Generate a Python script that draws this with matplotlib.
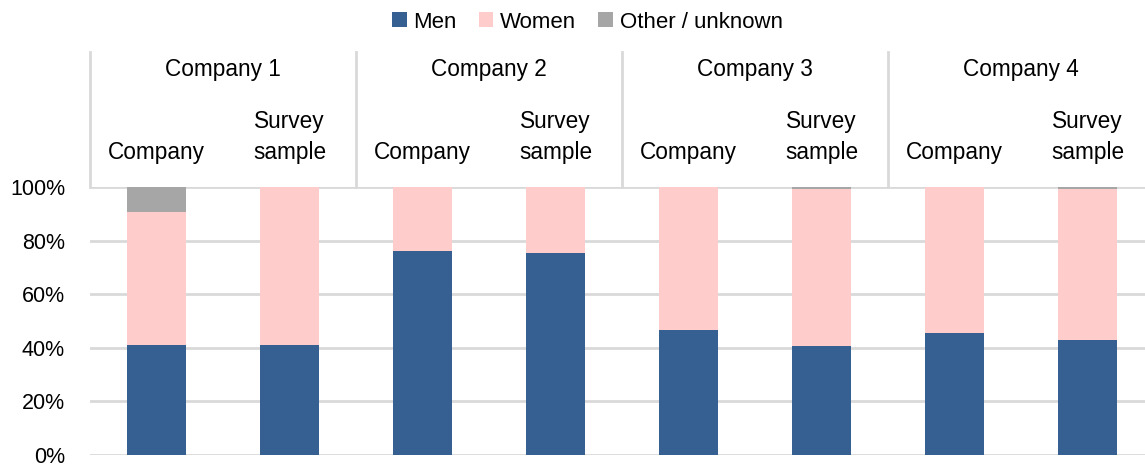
import matplotlib
matplotlib.use("Agg")
import matplotlib.pyplot as plt
from matplotlib import font_manager
import numpy as np

companies = ["Company 1", "Company 2", "Company 3", "Company 4"]
subcats = [["Company"], ["Survey", "sample"]]
men = [41.0, 41.0, 76.1, 75.4, 46.6, 40.7, 45.5, 42.9]
women = [49.7, 59.0, 23.9, 24.6, 53.4, 58.6, 54.5, 56.4]
other = [9.3, 0.0, 0.0, 0.0, 0.0, 0.7, 0.0, 0.7]
yticks = [0, 20, 40, 60, 80, 100]
ytick_labels = ["0%", "20%", "40%", "60%", "80%", "100%"]

names = {f.name for f in font_manager.fontManager.ttflist}
fam = "Liberation Sans Narrow" if "Liberation Sans Narrow" in names else "Liberation Sans"
plt.rcParams["font.family"] = [fam, "DejaVu Sans"]

c_men = "#366092"
c_women = "#FFCCCC"
c_other = "#A6A6A6"
grid_c = "#D9D9D9"

W, H = 1145, 467
fig = plt.figure(figsize=(W / 100, H / 100), dpi=100)
ax = fig.add_axes([90 / W, (H - 455) / H, 1064 / W, (455 - 187) / H])

x = np.arange(len(men))
bw = 0.44
ax.bar(x, men, bw, color=c_men, label="Men", zorder=3)
ax.bar(x, women, bw, bottom=men, color=c_women, label="Women", zorder=3)
bot2 = [m + w for m, w in zip(men, women)]
ax.bar(x, other, bw, bottom=bot2, color=c_other, label="Other / unknown", zorder=3)

ax.set_xlim(-0.5, len(men) - 0.5)
ax.set_ylim(0, 100)
ax.set_yticks(yticks)
ax.set_yticklabels(ytick_labels, fontsize=15.5)
ax.set_xticks([])
ax.tick_params(axis="y", length=0, pad=18)
for v in yticks:
    ax.axhline(v, color=grid_c, lw=2, zorder=1)
for s in ax.spines.values():
    s.set_visible(False)

# header
line_y = [112.7, 124.6]
for i in range(len(companies)):
    xl = 2 * i - 0.5
    ax.plot([xl, xl], [100, 150.4], color=grid_c, lw=2, clip_on=False, zorder=1)
    ax.text(2 * i + 0.5, 143.7, companies[i], ha="center", va="center", fontsize=16.3, clip_on=False)
    for j in range(2):
        lines = subcats[j]
        for k, t in enumerate(reversed(lines)):
            ax.text(2 * i + j, line_y[k], t, ha="center", va="center", fontsize=16.3, clip_on=False)

leg = fig.legend(loc="center", bbox_to_anchor=(0.513, (H - 22) / H), ncol=3, frameon=False,
                 fontsize=16, handlelength=0.65, handleheight=0.65, handletextpad=0.3,
                 columnspacing=1.0)

fig.savefig("out.png", dpi=100)
